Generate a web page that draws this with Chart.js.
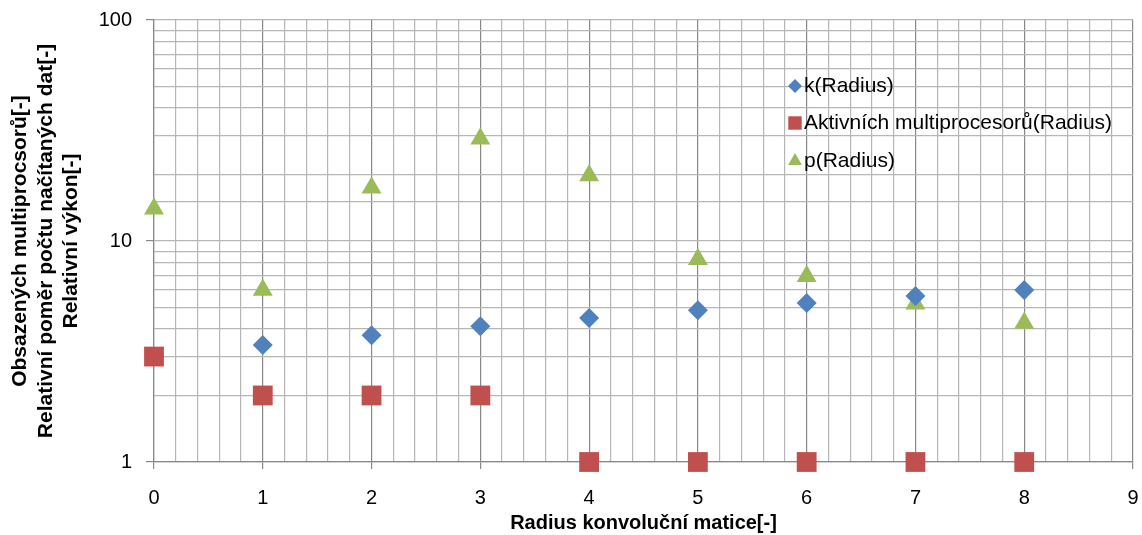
<!DOCTYPE html>
<html>
<head>
<meta charset="utf-8">
<script src="https://cdn.jsdelivr.net/npm/chart.js@4.4.0/dist/chart.umd.min.js"></script>
<style>
html, body { margin: 0; padding: 0; background: #fff; }
#wrap { width: 1142px; height: 535px; }
</style>
</head>
<body>
<div id="wrap"><canvas id="chart"></canvas></div>
<script>
// data
const radius = [0, 1, 2, 3, 4, 5, 6, 7, 8];
const kValues = [null, 3.38, 3.75, 4.11, 4.48, 4.86, 5.24, 5.64, 6.0];
const activeValues = [3, 2, 2, 2, 1, 1, 1, 1, 1];
const pValues = [14.0, 6.0, 17.4, 29.0, 19.8, 8.26, 6.93, 5.2, 4.26];
const seriesNames = ['k(Radius)', 'Aktivních multiprocesorů(Radius)', 'p(Radius)'];
const yTickLabels = [1, 10, 100];
const xTickLabels = [0, 1, 2, 3, 4, 5, 6, 7, 8, 9];

const FONT = "Arial, 'Liberation Sans', sans-serif";
const majorGrid = '#888888';
const minorGrid = '#b6b6b6';

function toPoints(values) {
    return radius.map((r, i) => ({ x: r, y: values[i] })).filter(p => p.y !== null);
}
function isInt(v) {
    return Math.abs(v - Math.round(v)) < 1e-6;
}

// legend drawn inside the plot area, like the original
const insideLegend = {
    id: 'insideLegend',
    afterDraw(chart) {
        const ctx = chart.ctx;
        const rows = [86, 123, 161];
        const mx = 795;
        ctx.save();
        ctx.font = '21px ' + FONT;
        ctx.textBaseline = 'middle';
        chart.data.datasets.forEach((ds, i) => {
            ctx.fillStyle = ds.backgroundColor;
            ctx.strokeStyle = ds.backgroundColor;
            Chart.helpers.drawPoint(ctx, {
                pointStyle: ds.pointStyle,
                radius: ds.legendRadius,
                rotation: 0,
                borderWidth: 0
            }, mx, rows[i]);
            ctx.fillStyle = '#000';
            ctx.fillText(ds.label, 804, rows[i]);
        });
        ctx.restore();
    }
};

new Chart(document.getElementById('chart'), {
    type: 'scatter',
    data: {
        datasets: [{
            label: seriesNames[0],
            data: toPoints(kValues),
            pointStyle: 'rectRot',
            pointRadius: 10,
            legendRadius: 7,
            backgroundColor: '#4F81BD',
            borderColor: '#4F81BD',
            borderWidth: 0,
            clip: false
        },
        {
            label: seriesNames[1],
            data: toPoints(activeValues),
            pointStyle: 'rect',
            pointRadius: 14,
            legendRadius: 9.5,
            backgroundColor: '#C0504D',
            borderColor: '#C0504D',
            borderWidth: 0,
            clip: false
        },
        {
            label: seriesNames[2],
            data: toPoints(pValues),
            pointStyle: 'triangle',
            pointRadius: 11.5,
            legendRadius: 8,
            backgroundColor: '#9BBB59',
            borderColor: '#9BBB59',
            borderWidth: 0,
            clip: false
        }]
    },
    options: {
        responsive: true,
        maintainAspectRatio: false,
        animation: false,
        layout: { autoPadding: false, padding: { top: 20, right: 9, left: 0, bottom: 0 } },
        plugins: {
            legend: { display: false },
            tooltip: { enabled: false }
        },
        scales: {
            x: {
                type: 'linear',
                min: 0,
                max: 9,
                afterFit: scale => {
                    scale.height = 73;
                    scale.paddingLeft = 0;
                    scale.paddingRight = 0;
                },
                ticks: {
                    stepSize: 0.2,
                    autoSkip: false,
                    maxRotation: 0,
                    padding: 17,
                    color: '#000',
                    font: { family: FONT, size: 20 },
                    callback: v => (isInt(v) && xTickLabels.includes(Math.round(v))) ? String(Math.round(v)) : ''
                },
                grid: {
                    color: c => isInt(c.tick.value) ? majorGrid : minorGrid,
                    tickColor: c => isInt(c.tick.value) ? majorGrid : 'rgba(0,0,0,0)',
                    tickLength: 7,
                    lineWidth: 1.2
                },
                border: { color: majorGrid, width: 1.2 },
                title: {
                    display: true,
                    text: 'Radius konvoluční matice[-]',
                    color: '#000',
                    font: { family: FONT, size: 20, weight: 'bold' },
                    padding: { top: 0, bottom: 0 }
                }
            },
            y: {
                type: 'logarithmic',
                min: 1,
                max: 100,
                afterFit: scale => {
                    scale.width = 154;
                    scale.paddingTop = 0;
                    scale.paddingBottom = 0;
                },
                ticks: {
                    autoSkip: false,
                    padding: 14,
                    color: '#000',
                    font: { family: FONT, size: 20 },
                    callback: v => yTickLabels.includes(v) ? String(v) : ''
                },
                grid: {
                    color: minorGrid,
                    tickColor: c => yTickLabels.includes(c.tick.value) ? majorGrid : 'rgba(0,0,0,0)',
                    tickLength: 8,
                    lineWidth: 1.2
                },
                border: { color: majorGrid, width: 1.2 },
                title: {
                    display: true,
                    text: ['Obsazených multiprocsorů[-]', 'Relativní poměr počtu načítaných dat[-]', 'Relativní výkon[-]'],
                    color: '#000',
                    font: { family: FONT, size: 21, weight: 'bold', lineHeight: 1.2 },
                    padding: { top: 8, bottom: 0 }
                }
            }
        }
    },
    plugins: [insideLegend]
});
</script>
</body>
</html>
